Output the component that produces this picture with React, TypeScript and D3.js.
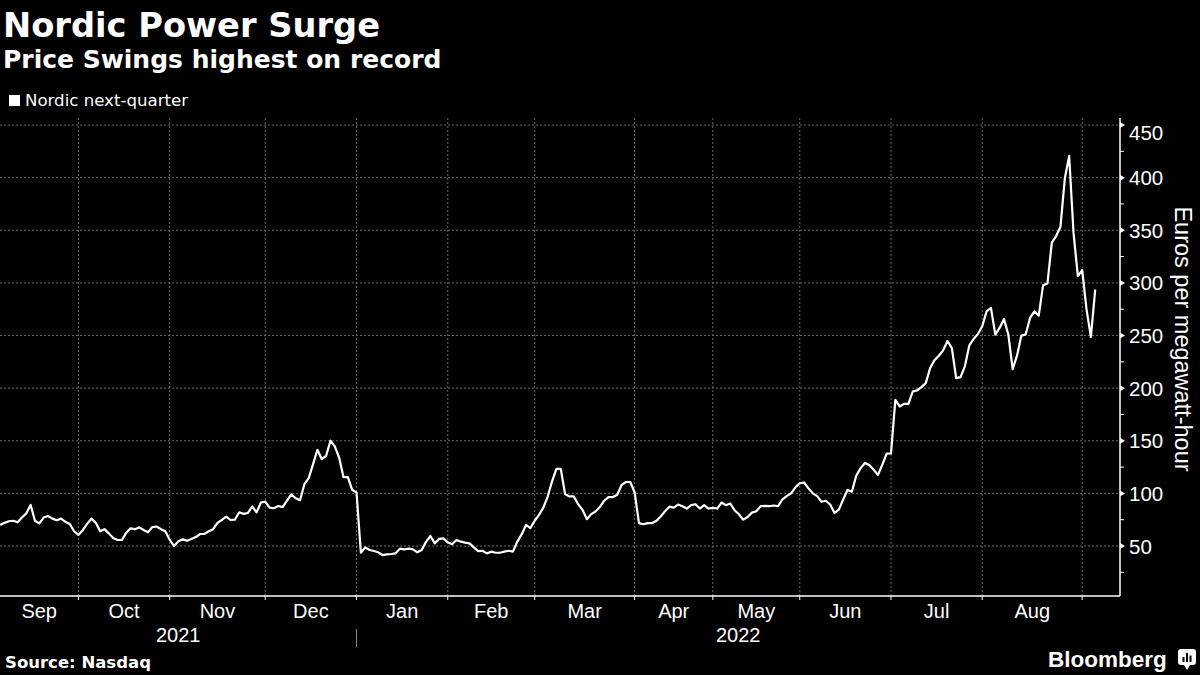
import React from "react";
import * as d3 from "d3";

// Nordic next-quarter power price, EUR/MWh, one value per trading day, grouped by month
const sep2021 = [70, 72, 73.5, 74, 72.5, 77, 81, 89, 74, 71.5, 77, 78.5, 76, 74.5, 76, 73, 71, 64];
const oct2021 = [60.5, 65, 71, 76, 72, 64, 66, 62, 57.5, 55.7, 55.7, 62.5, 66.8, 66, 67.7, 65.2, 63, 68, 68.5, 66, 64];
const nov2021 = [56, 50, 54.5, 56.3, 55, 56.6, 58.5, 61.4, 61.5, 64, 66, 72, 74.7, 78, 74.7, 75, 82, 80.5, 81.4, 87.5, 82, 91.3];
const dec2021 = [92.2, 86.5, 85.9, 88, 87, 93, 99, 95.4, 93.5, 108.7, 114.5, 127.8, 141.4, 132.5, 135.7, 150, 144.6, 134, 115.4, 115.4, 103.3];
const jan2022 = [100.8, 43.6, 48.7, 46.2, 45.2, 44, 41.4, 42, 42.4, 43, 47.5, 46.8, 47.5, 46.8, 44, 46.2, 54, 59.5, 52.5, 56.7, 57.3];
const feb2022 = [53.5, 51.6, 55.7, 54.1, 53.2, 52.5, 48.7, 45.2, 45.5, 43, 44.6, 43.6, 43.6, 44.6, 45.5, 44.6, 54.1, 61, 70, 67];
const mar2022 = [74, 79.6, 86.6, 97, 111.5, 123.3, 123.3, 99.4, 97.1, 97.1, 89.8, 84.4, 75.5, 80.3, 82.8, 87, 93, 96.5, 96.5, 98.7, 108, 110.8, 110.8];
const apr2022 = [101, 71.7, 70.7, 71.7, 71.7, 73.9, 78, 83, 87.4, 86.5, 89.4, 87.8, 85.6, 88.8, 89.7, 85.6, 88.8, 85.6];
const may2022 = [86.2, 85.6, 91.3, 88.8, 90.4, 84, 80.1, 75, 77.6, 81.7, 83, 87.8, 88.1, 87.8, 88.5, 87.8, 94.2, 97.4, 100, 105.8];
const jun2022 = [109.6, 110.3, 104.8, 100, 97.4, 92, 93, 89.4, 81.4, 84.6, 94.2, 103.2, 101.6, 116.7, 124, 128.8, 126.9, 122.4, 117.6, 127.2, 137.8];
const jul2022 = [138, 188.9, 182.6, 185, 185, 196.8, 197.8, 201, 204.8, 219, 226.4, 230.8, 235.9, 244.8, 238.1, 209.5, 210.5, 220.7, 240.3, 246.7, 251.4];
const aug2022 = [258.8, 273, 276.2, 250.8, 257.2, 265.7, 250.8, 218.1, 230.8, 249.9, 251.1, 266.7, 273, 268.9, 297.8, 299.4, 338.1, 344.5, 353.4, 399.1, 420.7, 347.7, 306.4];
const sep2022 = [312.1, 274.6, 248.6, 293.7];

const months = [sep2021, oct2021, nov2021, dec2021, jan2022, feb2022, mar2022, apr2022, may2022, jun2022, jul2022, aug2022, sep2022];
const monthLabels = ["Sep", "Oct", "Nov", "Dec", "Jan", "Feb", "Mar", "Apr", "May", "Jun", "Jul", "Aug", ""];
const years = [
  { label: "2021", firstMonth: 0 },
  { label: "2022", firstMonth: 4 },
];
const yMajorTicks = [50, 100, 150, 200, 250, 300, 350, 400, 450];
const yMinorTicks = [25, 75, 125, 175, 225, 275, 325, 375, 425];

const title = "Nordic Power Surge";
const subtitle = "Price Swings highest on record";
const seriesName = "Nordic next-quarter";
const yTitle = "Euros per megawatt-hour";
const source = "Source: Nasdaq";

export default function App() {
  const W = 1200;
  const H = 675;
  const plotLeft = 0;
  const plotRight = 1120;
  const plotTop = 118;
  const plotBottom = 596;

  const values: number[] = months.flat();
  const monthStarts: number[] = [];
  let acc = 0;
  months.forEach((m) => {
    monthStarts.push(acc);
    acc += m.length;
  });

  const x = d3.scaleLinear().domain([0, 249]).range([0.2, 1082.2]);
  const y = d3.scaleLinear().domain([50, 450]).range([546, 125]);

  const line = d3
    .line<number>()
    .x((_, i) => x(i))
    .y((d) => y(d))
    .curve(d3.curveLinear);

  const tickXs = monthStarts.slice(1).map((s) => x(s));
  const boundaries = [plotLeft, ...tickXs];

  const labelFont = "'Liberation Sans', Arial, sans-serif";
  const dejavu = "'DejaVu Sans', sans-serif";
  const gridColor = "#6a6a6a";

  const janX = x(monthStarts[4]);

  return (
    <svg
      width={W}
      height={H}
      viewBox={`0 0 ${W} ${H}`}
      style={{ position: "absolute", left: 0, top: 0, background: "#000", display: "block" }}
    >
      <rect x={0} y={0} width={W} height={H} fill="#000" />

      {/* Titles */}
      <text x={3} y={37} fill="#fff" fontFamily={dejavu} fontWeight="bold" fontSize={34} textLength={377} lengthAdjust="spacingAndGlyphs">
        {title}
      </text>
      <text x={3} y={68} fill="#fff" fontFamily={dejavu} fontWeight="bold" fontSize={25}>
        {subtitle}
      </text>

      {/* Legend */}
      <rect x={9} y={95} width={11} height={11} fill="#fff" />
      <text x={25} y={106} fill="#fff" fontFamily={dejavu} fontSize={16} textLength={163} lengthAdjust="spacingAndGlyphs">
        {seriesName}
      </text>

      {/* Horizontal gridlines */}
      {yMajorTicks.map((v) => (
        <line key={"hg" + v} x1={plotLeft} x2={plotRight} y1={y(v)} y2={y(v)} stroke={gridColor} strokeWidth={1} strokeDasharray="2,2" />
      ))}
      {/* Vertical gridlines */}
      {tickXs.map((tx, i) => (
        <line key={"vg" + i} x1={tx} x2={tx} y1={plotTop} y2={plotBottom} stroke={gridColor} strokeWidth={1} strokeDasharray="2,2" />
      ))}

      {/* Data line */}
      <path d={line(values) || ""} fill="none" stroke="#fff" strokeWidth={2.2} strokeLinejoin="round" />

      {/* X axis */}
      <line x1={plotLeft} x2={plotRight} y1={plotBottom} y2={plotBottom} stroke="#fff" strokeWidth={1.5} />
      {tickXs.map((tx, i) => (
        <line key={"xt" + i} x1={tx} x2={tx} y1={plotBottom} y2={plotBottom + 4} stroke="#fff" strokeWidth={1} />
      ))}
      {monthLabels.map((lab, i) => {
        if (!lab) return null;
        const x0 = boundaries[i];
        const x1 = i + 1 < boundaries.length ? boundaries[i + 1] : plotRight;
        return (
          <text key={"ml" + i} x={(x0 + x1) / 2} y={618} fill="#fff" fontFamily={labelFont} fontSize={20} textAnchor="middle">
            {lab}
          </text>
        );
      })}
      {years.map((yr, i) => {
        const x0 = i === 0 ? plotLeft : boundaries[yr.firstMonth];
        const x1 = i + 1 < years.length ? boundaries[years[i + 1].firstMonth] : plotRight;
        return (
          <text key={"yr" + i} x={(x0 + x1) / 2} y={642} fill="#fff" fontFamily={labelFont} fontSize={20} textAnchor="middle">
            {yr.label}
          </text>
        );
      })}
      <line x1={janX} x2={janX} y1={629} y2={647} stroke="#8a8a8a" strokeWidth={1} />

      {/* Y axis */}
      <line x1={plotRight} x2={plotRight} y1={plotTop} y2={plotBottom} stroke="#fff" strokeWidth={1.5} />
      {yMinorTicks.map((v) => (
        <line key={"ymn" + v} x1={plotRight} x2={plotRight + 4} y1={y(v)} y2={y(v)} stroke="#fff" strokeWidth={1} />
      ))}
      {yMajorTicks.map((v) => (
        <path key={"ymj" + v} d={`M${plotRight},${y(v) - 3}L${plotRight + 5},${y(v)}L${plotRight},${y(v) + 3}Z`} fill="#fff" />
      ))}
      {yMajorTicks.map((v) => (
        <text
          key={"yl" + v}
          x={1129}
          y={v === 450 ? y(v) + 15 : y(v) + 7.5}
          fill="#fff"
          fontFamily={labelFont}
          fontSize={20.5}
        >
          {v}
        </text>
      ))}
      <text
        transform={`translate(1175,339) rotate(90)`}
        fill="#fff"
        fontFamily={labelFont}
        fontSize={23.5}
        textAnchor="middle"
      >
        {yTitle}
      </text>

      {/* Footer */}
      <text x={5} y={668} fill="#fff" fontFamily={dejavu} fontWeight="bold" fontSize={16.5}>
        {source}
      </text>
      <text x={1048} y={667} fill="#fff" fontFamily={labelFont} fontWeight="bold" fontSize={22.5}>
        Bloomberg
      </text>
      <g>
        <rect x={1178} y={649} width={18} height={16} rx={3} fill="#fff" />
        <path d="M1184,665 L1187,670 L1190,665 Z" fill="#fff" />
        <rect x={1182.5} y={657} width={2} height={5} fill="#000" />
        <rect x={1186} y={653} width={2} height={9} fill="#000" />
        <rect x={1189.5} y={655.5} width={2} height={6.5} fill="#000" />
      </g>
    </svg>
  );
}
